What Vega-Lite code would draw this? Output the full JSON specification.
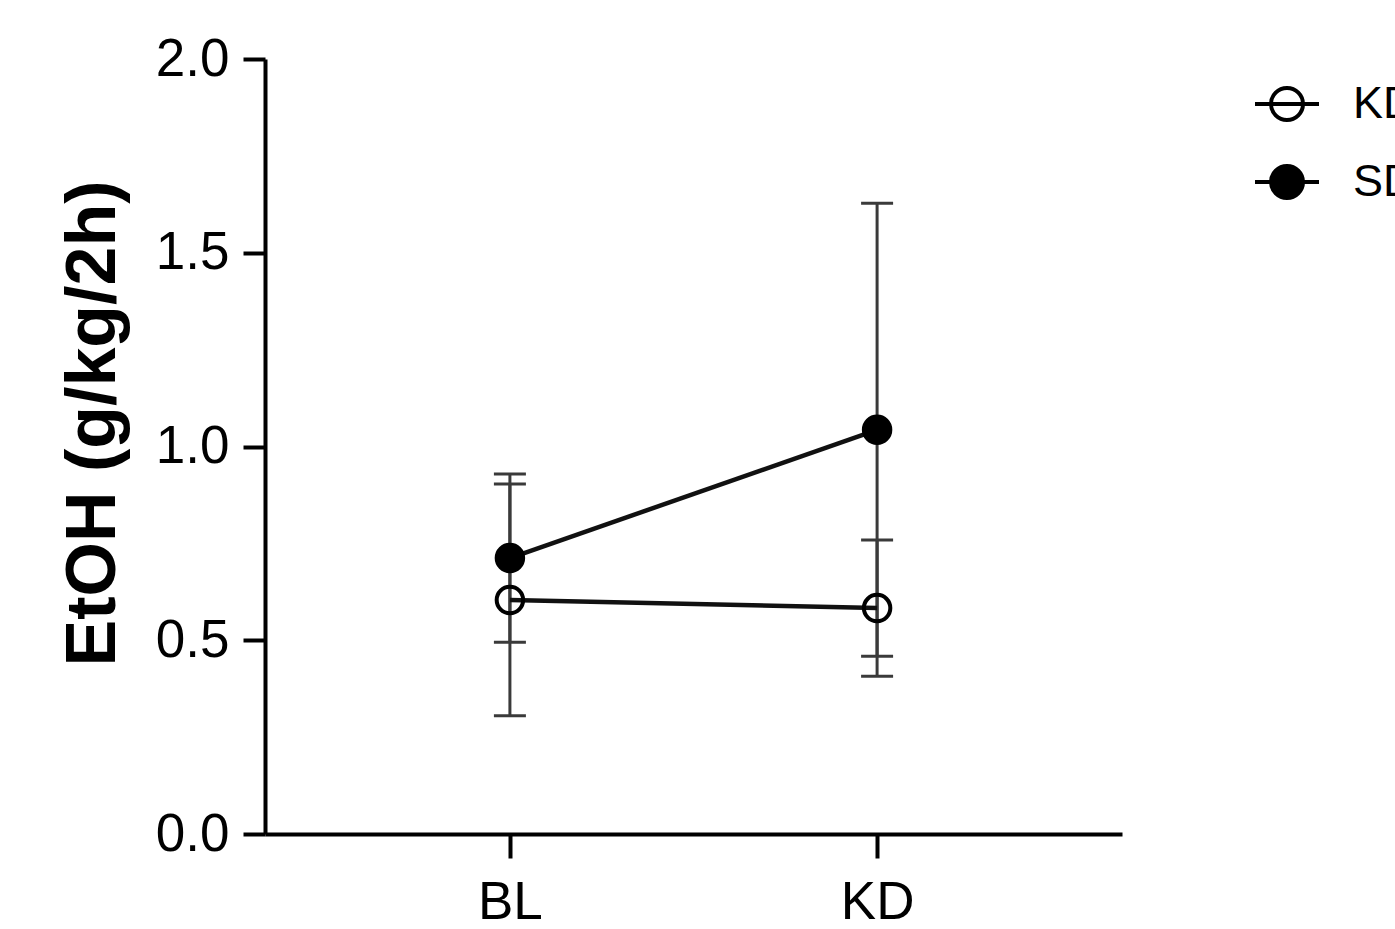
{
  "$schema": "https://vega.github.io/schema/vega-lite/v6.json",
  "autosize": "none",
  "padding": {"left": 265, "top": 59, "right": 273, "bottom": 95},
  "width": 857,
  "height": 775,
  "background": "white",
  "config": {"view": {"stroke": null}, "font": "Liberation Sans"},
  "data": {"values": [
    {"group": "KD", "time": "BL", "mean": 0.604, "low": 0.305, "high": 0.903},
    {"group": "KD", "time": "KD", "mean": 0.583, "low": 0.407, "high": 0.759},
    {"group": "SD", "time": "BL", "mean": 0.712, "low": 0.495, "high": 0.929},
    {"group": "SD", "time": "KD", "mean": 1.043, "low": 0.459, "high": 1.628}
  ]},
  "encoding": {
    "x": {"field": "time", "type": "nominal", "sort": ["BL", "KD"],
      "scale": {"type": "point", "padding": 0.667, "domain": ["BL", "KD"]},
      "axis": {"title": null, "labelAngle": 0, "labelFont": "Liberation Sans", "labelFontSize": 53, "labelColor": "black",
        "domainColor": "black", "domainWidth": 4, "tickColor": "black", "tickWidth": 4, "tickSize": 24, "labelPadding": 18, "grid": false}}
  },
  "layer": [
    {
      "mark": {"type": "rule", "stroke": "#3a3a3a", "strokeWidth": 3},
      "encoding": {
        "y": {"field": "low", "type": "quantitative", "scale": {"domain": [0, 2], "nice": false},
          "axis": {"title": "EtOH (g/kg/2h)", "values": [0, 0.5, 1, 1.5, 2], "format": ".1f",
            "labelFont": "Liberation Sans", "labelFontSize": 53, "labelColor": "black", "labelPadding": 14,
            "domainColor": "black", "domainWidth": 4, "tickColor": "black", "tickWidth": 4, "tickSize": 22, "grid": false,
            "titleFont": "Liberation Sans", "titleFontSize": 70, "titleFontWeight": "bold", "titleColor": "black",
            "titleX": -151, "titleY": 364, "titleBaseline": "alphabetic", "titleAngle": -90, "titleAlign": "center"}},
        "y2": {"field": "high"}
      }
    },
    {
      "mark": {"type": "tick", "color": "#3a3a3a", "size": 32, "thickness": 3, "opacity": 1},
      "encoding": {"y": {"field": "low", "type": "quantitative"}}
    },
    {
      "mark": {"type": "tick", "color": "#3a3a3a", "size": 32, "thickness": 3, "opacity": 1},
      "encoding": {"y": {"field": "high", "type": "quantitative"}}
    },
    {
      "mark": {"type": "line", "stroke": "#111111", "strokeWidth": 4.5},
      "encoding": {
        "y": {"field": "mean", "type": "quantitative"},
        "detail": {"field": "group"}
      }
    },
    {
      "mark": {"type": "point", "shape": "circle", "filled": true, "size": 700, "stroke": "black", "strokeWidth": 4, "opacity": 1},
      "encoding": {
        "y": {"field": "mean", "type": "quantitative"},
        "fill": {"field": "group", "type": "nominal",
          "scale": {"domain": ["KD", "SD"], "range": ["transparent", "black"]},
          "legend": {"title": null, "orient": "none", "legendX": 988, "legendY": 11,
            "symbolType": "M-1,0L1,0M0.5,0A0.5,0.5 0 1,1 -0.5,0A0.5,0.5 0 1,1 0.5,0Z",
            "symbolSize": 4096, "symbolStrokeColor": "black", "symbolStrokeWidth": 4,
            "labelFont": "Liberation Sans", "labelFontSize": 45, "labelColor": "black", "labelOffset": 32,
            "rowPadding": 20, "padding": 0}}
      }
    }
  ]
}
